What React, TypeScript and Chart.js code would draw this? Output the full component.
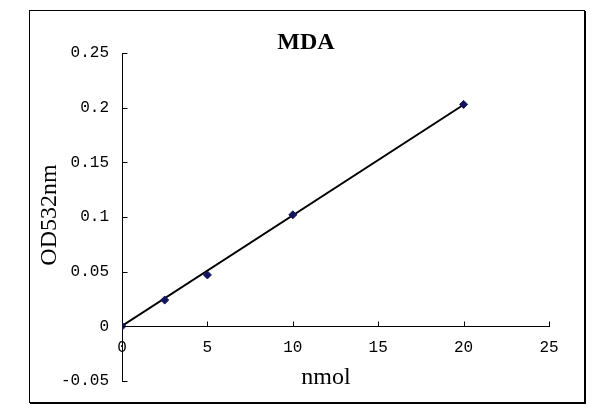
import React, { useEffect, useRef } from "react";
import { Chart, registerables } from "chart.js";

Chart.register(...registerables);

const pointX = [0, 2.5, 5, 10, 20];
const pointY = [0, 0.024, 0.047, 0.102, 0.203];
const trendX = [0, 20];
const trendY = [0.0003, 0.2027];
const xTickValues = [0, 5, 10, 15, 20, 25];
const yTickValues = [-0.05, 0, 0.05, 0.1, 0.15, 0.2, 0.25];
const yTickLabels = ["-0.05", "0", "0.05", "0.1", "0.15", "0.2", "0.25"];
const chartTitle = "MDA";
const xTitle = "nmol";
const yTitle = "OD532nm";

export default function App() {
  const ref = useRef<HTMLCanvasElement>(null);

  useEffect(() => {
    document.body.style.margin = "0";
    const canvas = ref.current;
    if (!canvas) return;

    const decor = {
      id: "decor",
      beforeDraw(chart: any) {
        const ctx = chart.ctx;
        ctx.save();
        ctx.fillStyle = "#ffffff";
        ctx.fillRect(0, 0, chart.width, chart.height);
        ctx.strokeStyle = "#000000";
        ctx.lineWidth = 1;
        ctx.strokeRect(29.5, 10.5, 555, 392);
        ctx.beginPath();
        ctx.moveTo(585.5, 11);
        ctx.lineTo(585.5, 404);
        ctx.moveTo(30, 403.5);
        ctx.lineTo(586, 403.5);
        ctx.stroke();
        ctx.restore();
      },
      afterDraw(chart: any) {
        const ctx = chart.ctx;
        const xs = chart.scales.x;
        const ys = chart.scales.y;
        ctx.save();
        ctx.strokeStyle = "#000000";
        ctx.lineWidth = 1;
        const ax = Math.round(xs.getPixelForValue(0)) + 0.5;
        const ay = Math.round(ys.getPixelForValue(0)) + 0.5;
        ctx.beginPath();
        for (const v of yTickValues) {
          const py = Math.round(ys.getPixelForValue(v)) + 0.5;
          ctx.moveTo(ax, py);
          ctx.lineTo(ax + 5, py);
        }
        for (const v of xTickValues) {
          if (v === 0) continue;
          const px = Math.round(xs.getPixelForValue(v)) + 0.5;
          ctx.moveTo(px, ay);
          ctx.lineTo(px, ay - 5);
        }
        ctx.stroke();

        ctx.fillStyle = "#000000";
        ctx.textAlign = "center";
        ctx.textBaseline = "middle";
        ctx.font = "bold 24px 'Liberation Serif'";
        ctx.fillText(chartTitle, 306, 43);
        ctx.font = "24px 'Liberation Serif'";
        ctx.fillText(xTitle, 326, 378);
        ctx.translate(50, 215);
        ctx.rotate(-Math.PI / 2);
        ctx.fillText(yTitle, 0, 0);
        ctx.restore();
      },
    };

    const chart = new Chart(canvas, {
      type: "scatter",
      data: {
        datasets: [
          {
            label: "points",
            data: pointX.map((x, i) => ({ x, y: pointY[i] })),
            pointStyle: "rectRot",
            pointRadius: 4,
            backgroundColor: "#14145e",
            borderColor: "#14145e",
            borderWidth: 1,
            showLine: false,
          },
          {
            label: "trend",
            data: trendX.map((x, i) => ({ x, y: trendY[i] })),
            showLine: true,
            borderColor: "#000000",
            borderWidth: 2,
            pointRadius: 0,
            fill: false,
          },
        ],
      },
      options: {
        responsive: false,
        animation: false,
        devicePixelRatio: 1,
        layout: { padding: { left: 30, top: 53, right: 56, bottom: 31 } },
        plugins: {
          legend: { display: false },
          title: { display: false },
          tooltip: { enabled: false },
        },
        scales: {
          x: {
            type: "linear",
            position: { y: 0 } as any,
            min: 0,
            max: 25,
            grid: { display: false, drawTicks: false },
            border: { display: true, color: "#000000", width: 1 },
            ticks: {
              stepSize: 5,
              padding: 12,
              color: "#000000",
              maxRotation: 0,
              font: { family: "'Liberation Mono'", size: 16 },
            },
          },
          y: {
            type: "linear",
            position: "left",
            min: -0.05,
            max: 0.25,
            grid: { display: false, drawTicks: false },
            border: { display: true, color: "#000000", width: 1 },
            afterFit: (scale: any) => {
              scale.width = 92;
            },
            ticks: {
              stepSize: 0.05,
              padding: 13,
              color: "#000000",
              font: { family: "'Liberation Mono'", size: 16 },
              callback: (_v: any, i: number) => yTickLabels[i],
            },
          },
        },
      },
      plugins: [decor],
    });

    return () => chart.destroy();
  }, []);

  return <canvas ref={ref} width={605} height={412} style={{ display: "block" }} />;
}
